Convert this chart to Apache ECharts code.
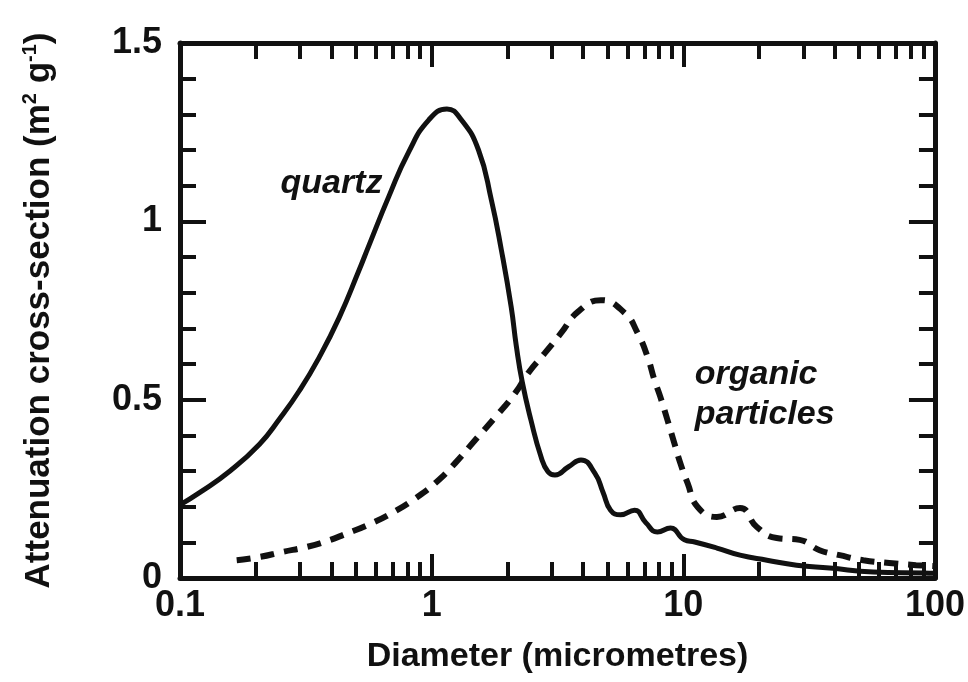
<!DOCTYPE html>
<html>
<head>
<meta charset="utf-8">
<script src="https://cdn.jsdelivr.net/npm/echarts@6/dist/echarts.min.js"></script>
<style>html,body{margin:0;padding:0;background:#fff;}#chart{width:968px;height:682px;}</style>
</head>
<body>
<div id="chart"></div>
<script>
// ---- data ----
var quartzX = [0.1, 0.12, 0.158, 0.207, 0.248, 0.298, 0.357, 0.429, 0.514, 0.563, 0.676, 0.811, 0.973, 1.15, 1.314, 1.535, 1.727, 1.892, 2.07, 2.17, 2.29, 2.48, 2.72, 2.9, 3.09, 3.5, 3.92, 4.45, 4.8, 5.14, 5.63, 6.4, 7.1, 7.89, 8.89, 10.1, 11.1, 13.6, 16.8, 21.5, 28.2, 38.1, 56.9, 89.8, 100];
var quartzY = [0.205, 0.24, 0.30, 0.375, 0.445, 0.525, 0.618, 0.73, 0.862, 0.932, 1.07, 1.195, 1.284, 1.315, 1.284, 1.20, 1.06, 0.92, 0.76, 0.65, 0.55, 0.443, 0.34, 0.298, 0.289, 0.312, 0.331, 0.294, 0.24, 0.19, 0.177, 0.19, 0.155, 0.129, 0.140, 0.107, 0.101, 0.084, 0.064, 0.05, 0.036, 0.028, 0.017, 0.014, 0.013];
var organicX = [0.168, 0.207, 0.255, 0.318, 0.381, 0.457, 0.563, 0.695, 0.865, 1.04, 1.24, 1.49, 1.79, 2.15, 2.42, 2.82, 3.27, 3.81, 4.70, 5.85, 6.58, 7.21, 7.68, 8.11, 8.65, 9.21, 9.73, 10.4, 11.4, 13.6, 16.8, 19.6, 23.5, 29.0, 34.8, 41.8, 51.9, 65.8, 84.1, 100];
var organicY = [0.050, 0.059, 0.073, 0.087, 0.103, 0.124, 0.150, 0.182, 0.224, 0.268, 0.322, 0.387, 0.451, 0.519, 0.575, 0.631, 0.687, 0.746, 0.779, 0.743, 0.687, 0.62, 0.555, 0.507, 0.443, 0.378, 0.322, 0.266, 0.199, 0.171, 0.196, 0.143, 0.112, 0.107, 0.078, 0.064, 0.050, 0.042, 0.036, 0.033];
var xMajorTicks = [0.1, 1, 10, 100];
var xMinorTicks = [0.2,0.3,0.4,0.5,0.6,0.7,0.8,0.9, 2,3,4,5,6,7,8,9, 20,30,40,50,60,70,80,90];
var quartzLabel = {text: 'quartz', x: 0.40, y: 1.107};
var organicLabel = {text: 'organic\nparticles', x: 11.1, y: 0.515};

// ---- build ----
function pairs(xs, ys){ return xs.map(function(x,i){ return [x, ys[i]]; }); }
var FONT = 'Liberation Sans, Arial, Helvetica, sans-serif';
var black = '#111';
function xAxisDef(pos, ticks, len, showLine, showLabel){
  return {
    type: 'log', logBase: 10, min: 0.1, max: 100, position: pos,
    axisLine: {show: showLine, lineStyle: {color: black, width: 5}},
    axisTick: {show: true, inside: true, length: len, customValues: ticks, lineStyle: {color: black, width: 4}},
    axisLabel: {show: showLabel, customValues: showLabel ? ticks : undefined, margin: 10, color: black,
      fontFamily: FONT, fontWeight: 'bold', fontSize: 36,
      formatter: function(v){ return String(+v.toPrecision(3)); }},
    splitLine: {show: false}, minorTick: {show: false}
  };
}
function yAxisDef(pos, showLabel){
  return {
    type: 'value', min: 0, max: 1.5, interval: 0.5, position: pos,
    axisLine: {show: true, lineStyle: {color: black, width: 5}},
    axisTick: {show: true, inside: true, length: 26, lineStyle: {color: black, width: 4}},
    minorTick: {show: true, splitNumber: 5, length: 16, lineStyle: {color: black, width: 4}},
    axisLabel: {show: showLabel, margin: 18, color: black, fontFamily: FONT, fontWeight: 'bold', fontSize: 36},
    splitLine: {show: false}, minorSplitLine: {show: false}
  };
}
var xAxes = [
  xAxisDef('bottom', xMajorTicks, 24, true, true),
  xAxisDef('bottom', xMinorTicks, 16, false, false),
  xAxisDef('top', xMajorTicks, 24, true, false),
  xAxisDef('top', xMinorTicks, 16, false, false)
];
xAxes[0].name = 'Diameter (micrometres)';
xAxes[0].nameLocation = 'middle';
xAxes[0].nameGap = 62;
xAxes[0].nameTextStyle = {color: black, fontFamily: FONT, fontWeight: 'bold', fontSize: 34};
var yAxes = [yAxisDef('left', true), yAxisDef('right', false)];
yAxes[0].name = 'Attenuation cross-section (m{sup|2} g{sup|-1})';
yAxes[0].nameLocation = 'middle';
yAxes[0].nameRotate = 90;
yAxes[0].nameGap = 122;
yAxes[0].nameTextStyle = {color: black, fontFamily: FONT, fontWeight: 'bold', fontSize: 35,
  rich: {sup: {color: black, fontFamily: FONT, fontWeight: 'bold', fontSize: 20, padding: [0, 0, 18, 0]}}};

var labelStyle = {color: black, fontFamily: FONT, fontWeight: 'bold', fontStyle: 'italic', fontSize: 34, lineHeight: 40};

var option = {
  backgroundColor: '#fff',
  animation: false,
  grid: {left: 180, right: 30, top: 43, bottom: 104, containLabel: false},
  xAxis: xAxes,
  yAxis: yAxes,
  series: [
    {
      type: 'line', name: 'quartz', data: pairs(quartzX, quartzY), xAxisIndex: 0, yAxisIndex: 0,
      showSymbol: false, smooth: 0.5,
      lineStyle: {color: black, width: 5},
      markPoint: {symbolSize: 0, silent: true,
        data: [{coord: [quartzLabel.x, quartzLabel.y], value: quartzLabel.text}],
        label: Object.assign({show: true, position: 'inside', formatter: quartzLabel.text}, labelStyle)}
    },
    {
      type: 'line', name: 'organic particles', data: pairs(organicX, organicY), xAxisIndex: 0, yAxisIndex: 0,
      showSymbol: false, smooth: 0.5,
      lineStyle: {color: black, width: 6, type: [14, 10]},
      markPoint: {symbolSize: 0, silent: true,
        data: [{coord: [organicLabel.x, organicLabel.y], value: 1}],
        label: Object.assign({show: true, position: 'right', distance: 0, align: 'left', formatter: organicLabel.text}, labelStyle)}
    }
  ]
};
var chart = echarts.init(document.getElementById('chart'), null, {renderer: 'canvas'});
chart.setOption(option);
</script>
</body>
</html>
